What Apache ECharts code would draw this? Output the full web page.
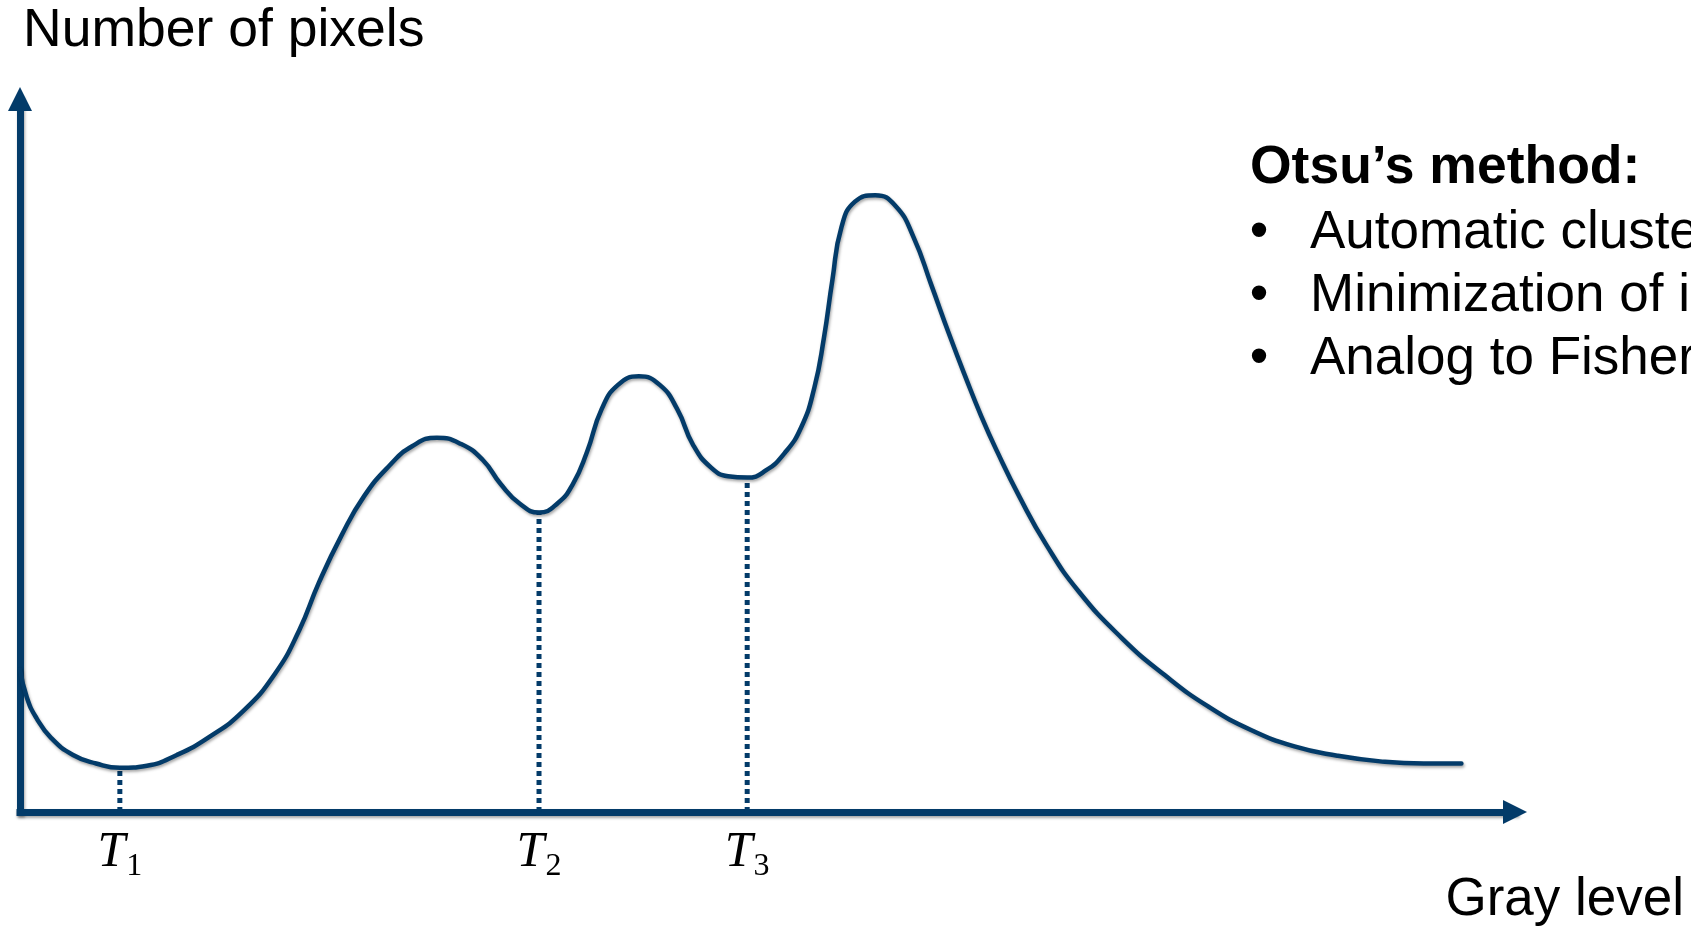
<!DOCTYPE html>
<html>
<head>
<meta charset="utf-8">
<script src="https://cdn.jsdelivr.net/npm/echarts@6/dist/echarts.min.js"></script>
<style>
  html, body { margin: 0; padding: 0; background: #ffffff; overflow: hidden; }
  #chart { width: 1691px; height: 928px; }
</style>
</head>
<body>
<div id="chart"></div>
<script>
// Histogram outline: gray level vs. number of pixels (arbitrary units)
const grayLevels = [
  0, 1.2, 2.9, 5.5, 9.4, 13.5, 17.7, 22.5, 27.8, 33.5, 39.5, 45.2, 49.5,
  53.0, 57.0, 61.0, 65.5, 69.5, 73.9, 78.2, 82.0, 85.2, 88.5, 92.0, 95.3,
  98.0, 100.5, 103.1, 106.0, 109.7, 113.4, 116.5, 119.3, 122.5, 125.5,
  128.9, 132.2, 135.5, 138.5, 140.8, 142.5, 144.0, 145.6, 148.0, 151.6,
  155.2, 158.4, 161.5, 164.7, 167.5, 170.4, 173.3, 177.1, 181.9, 187.6,
  195.3, 202.9, 210.6, 218.2, 225.9, 233.5, 241.1, 248.8, 255.5
];
const pixelCounts = [
  20.0, 16.1, 13.2, 10.4, 8.0, 6.8, 6.2, 6.5, 8.0, 10.5, 14.1, 19.4, 25.5,
  32.2, 38.8, 44.3, 48.6, 51.3, 52.5, 51.6, 49.4, 46.0, 43.3, 42.0, 43.3,
  46.0, 50.5, 56.5, 59.9, 61.1, 59.9, 56.5, 51.5, 48.3, 47.1,
  46.9, 47.9, 50.3, 54.0, 59.5, 66.5, 74.6, 82.0, 85.6, 86.5,
  85.0, 80.6, 74.0, 67.0, 61.2, 55.5, 50.4, 44.3, 37.5, 31.0,
  24.4, 19.2, 14.8, 11.5, 9.2, 7.9, 7.1, 6.8, 6.8
];

// Thresholds at the valleys of the histogram
const thresholdLevels = [17.7, 92.0, 128.9];
const thresholdCounts = [6.2, 42.0, 46.9];
const thresholdIndices = ['1', '2', '3'];

// Axis titles and side notes
const yAxisTitle = 'Number of pixels';
const xAxisTitle = 'Gray level';
const methodTitle = 'Otsu’s method:';
const methodPoints = [
  'Automatic clustering',
  'Minimization of intra-class variance',
  'Analog to Fisher’s discriminant analysis'
];

const navy = '#033b69';
const sansFont = 'Liberation Sans, Arial, Helvetica, sans-serif';
const serifFont = 'Liberation Serif, Times New Roman, serif';
const shadow = {
  shadowColor: 'rgba(0,0,0,0.35)',
  shadowBlur: 3,
  shadowOffsetX: 1,
  shadowOffsetY: 2
};

const chart = echarts.init(document.getElementById('chart'), null, { renderer: 'canvas' });

const curve = grayLevels.map((g, i) => [g, pixelCounts[i]]);

// One dotted drop line per threshold, from the axis up to the curve
const thresholdSeries = thresholdLevels.map((g, i) => ({
  type: 'line',
  data: [[g, 0], [g, thresholdCounts[i]]],
  showSymbol: false,
  symbol: 'none',
  silent: true,
  lineStyle: { color: navy, width: 5, type: [5, 4], cap: 'butt' },
  z: 2
}));

const noteGraphics = [
  {
    type: 'text',
    style: {
      x: 1250, y: 168, text: methodTitle,
      fontFamily: sansFont, fontSize: 53.5, fontWeight: 'bold', fill: '#000',
      verticalAlign: 'middle', textAlign: 'left', lineHeight: 54
    }
  }
];
methodPoints.forEach((t, i) => {
  const y = 233 + i * 63;
  noteGraphics.push({
    type: 'text',
    style: {
      x: 1259, y: y, text: '•',
      fontFamily: sansFont, fontSize: 53, fill: '#000',
      verticalAlign: 'middle', textAlign: 'center', lineHeight: 54
    }
  });
  noteGraphics.push({
    type: 'text',
    style: {
      x: 1310, y: y, text: t,
      fontFamily: sansFont, fontSize: 53, fill: '#000',
      verticalAlign: 'middle', textAlign: 'left', lineHeight: 54
    }
  });
});

const axisLineStyle = Object.assign({ color: navy, width: 7, cap: 'square' }, shadow);

chart.setOption({
  animation: false,
  backgroundColor: '#ffffff',
  grid: {
    left: 20, right: 176, top: 99, bottom: 116,
    containLabel: false, outerBoundsMode: 'none'
  },
  xAxis: {
    type: 'value',
    min: 0, max: 265,
    name: xAxisTitle,
    nameLocation: 'end',
    nameGap: 169,
    nameTextStyle: {
      fontFamily: sansFont, fontSize: 53, color: '#000',
      align: 'right', verticalAlign: 'top', lineHeight: 53,
      padding: [62, 0, 0, 0]
    },
    axisLine: {
      show: true, onZero: true,
      symbol: ['none', 'triangle'], symbolSize: [24, 24],
      lineStyle: axisLineStyle
    },
    axisTick: { show: false },
    splitLine: { show: false },
    axisLabel: {
      show: true,
      customValues: thresholdLevels,
      margin: 16,
      formatter: function (v) {
        const i = thresholdLevels.findIndex(t => Math.abs(t - v) < 1e-6);
        return i < 0 ? '' : '{t|T}{s|' + thresholdIndices[i] + '}';
      },
      rich: {
        t: {
          fontFamily: serifFont, fontStyle: 'italic', fontSize: 50, color: '#000',
          lineHeight: 50, verticalAlign: 'top'
        },
        s: {
          fontFamily: serifFont, fontSize: 32, color: '#000',
          lineHeight: 30, verticalAlign: 'top', padding: [23, 0, 0, 1]
        }
      }
    }
  },
  yAxis: {
    type: 'value',
    min: 0, max: 100,
    name: yAxisTitle,
    nameLocation: 'end',
    nameGap: 41,
    nameTextStyle: {
      fontFamily: sansFont, fontSize: 53.5, color: '#000',
      align: 'left', verticalAlign: 'bottom', lineHeight: 54,
      padding: [0, 0, 0, 3]
    },
    axisLine: {
      show: true,
      symbol: ['none', 'triangle'], symbolSize: [24, 24],
      lineStyle: axisLineStyle
    },
    axisTick: { show: false },
    axisLabel: { show: false },
    splitLine: { show: false }
  },
  series: [
    {
      type: 'line',
      data: curve,
      smooth: true,
      showSymbol: false,
      symbol: 'none',
      clip: false,
      silent: true,
      lineStyle: Object.assign({ color: navy, width: 4.5, cap: 'round' }, shadow),
      z: 3
    }
  ].concat(thresholdSeries),
  graphic: noteGraphics
});
</script>
</body>
</html>
